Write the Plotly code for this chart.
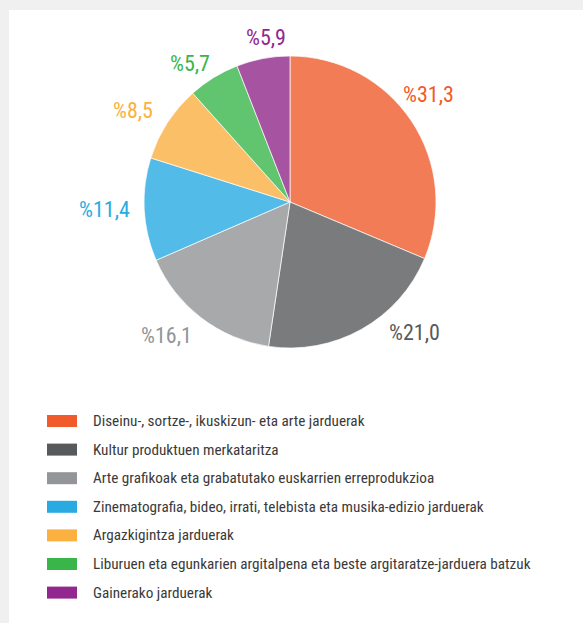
import plotly.graph_objects as go

W, H = 583, 623

categories = [
    "Diseinu-, sortze-, ikuskizun- eta arte jarduerak",
    "Kultur produktuen merkataritza",
    "Arte grafikoak eta grabatutako euskarrien erreprodukzioa",
    "Zinematografia, bideo, irrati, telebista eta musika-edizio jarduerak",
    "Argazkigintza jarduerak",
    "Liburuen eta egunkarien argitalpena eta beste argitaratze-jarduera batzuk",
    "Gainerako jarduerak",
]
values = [31.3, 21.0, 16.1, 11.4, 8.5, 5.7, 5.9]

slice_colors = ["#f17c55", "#7a7b7d", "#a8a9ab", "#52bbe8", "#fbbf67", "#61c46e", "#a653a2"]
key_colors = ["#f15a2a", "#58595b", "#939598", "#29abe2", "#fbb040", "#39b54a", "#92278f"]

# label centres in pixels (layout)
label_pos = [(429, 95), (414, 332), (166, 335), (104, 210), (133, 110), (190, 63), (266, 38)]

FONT = "Liberation Sans Narrow, Roboto Condensed, Arial Narrow, DejaVu Sans Condensed, Roboto, sans-serif"

def px(x):
    return x / W

def py(y):
    return 1 - y / H

cx, cy, r = 290, 202, 146

fig = go.Figure(go.Pie(
    labels=categories,
    values=values,
    sort=False,
    direction="clockwise",
    rotation=0,
    marker=dict(colors=slice_colors, line=dict(color="white", width=0.7)),
    textinfo="none",
    hoverinfo="label+percent",
    showlegend=False,
    domain=dict(x=[px(cx - r), px(cx + r)], y=[py(cy + r), py(cy - r)]),
))

shapes = [dict(type="rect", xref="paper", yref="paper",
               x0=px(9), x1=1.0, y0=0.0, y1=py(10),
               fillcolor="white", line=dict(width=0), layer="below")]
annotations = []

for v, col, (lx, ly) in zip(values, key_colors, label_pos):
    annotations.append(dict(
        x=px(lx), y=py(ly), xref="paper", yref="paper",
        text="%" + f"{v:.1f}".replace(".", ","),
        showarrow=False, xanchor="center", yanchor="middle",
        font=dict(family=FONT, size=22, color=col),
    ))

row_y0, row_step = 421, 28.6
for i, (name, col) in enumerate(zip(categories, key_colors)):
    yc = row_y0 + i * row_step
    shapes.append(dict(type="rect", xref="paper", yref="paper",
                       x0=px(47), x1=px(77), y0=py(yc + 6), y1=py(yc - 6),
                       fillcolor=col, line=dict(width=0)))
    annotations.append(dict(
        x=px(91), y=py(yc), xref="paper", yref="paper",
        text=name, showarrow=False, xanchor="left", yanchor="middle",
        font=dict(family=FONT, size=15.2, color="#3a3a3a"),
    ))

fig.update_layout(
    width=W, height=H,
    margin=dict(l=0, r=0, t=0, b=0),
    paper_bgcolor="#f0f0f0",
    plot_bgcolor="white",
    shapes=shapes,
    annotations=annotations,
)

fig.write_html(
    "out.html",
    config={"displayModeBar": False},
    post_script="document.body.style.margin='0';document.body.style.background='#f0f0f0';document.body.style.overflow='hidden';",
)
